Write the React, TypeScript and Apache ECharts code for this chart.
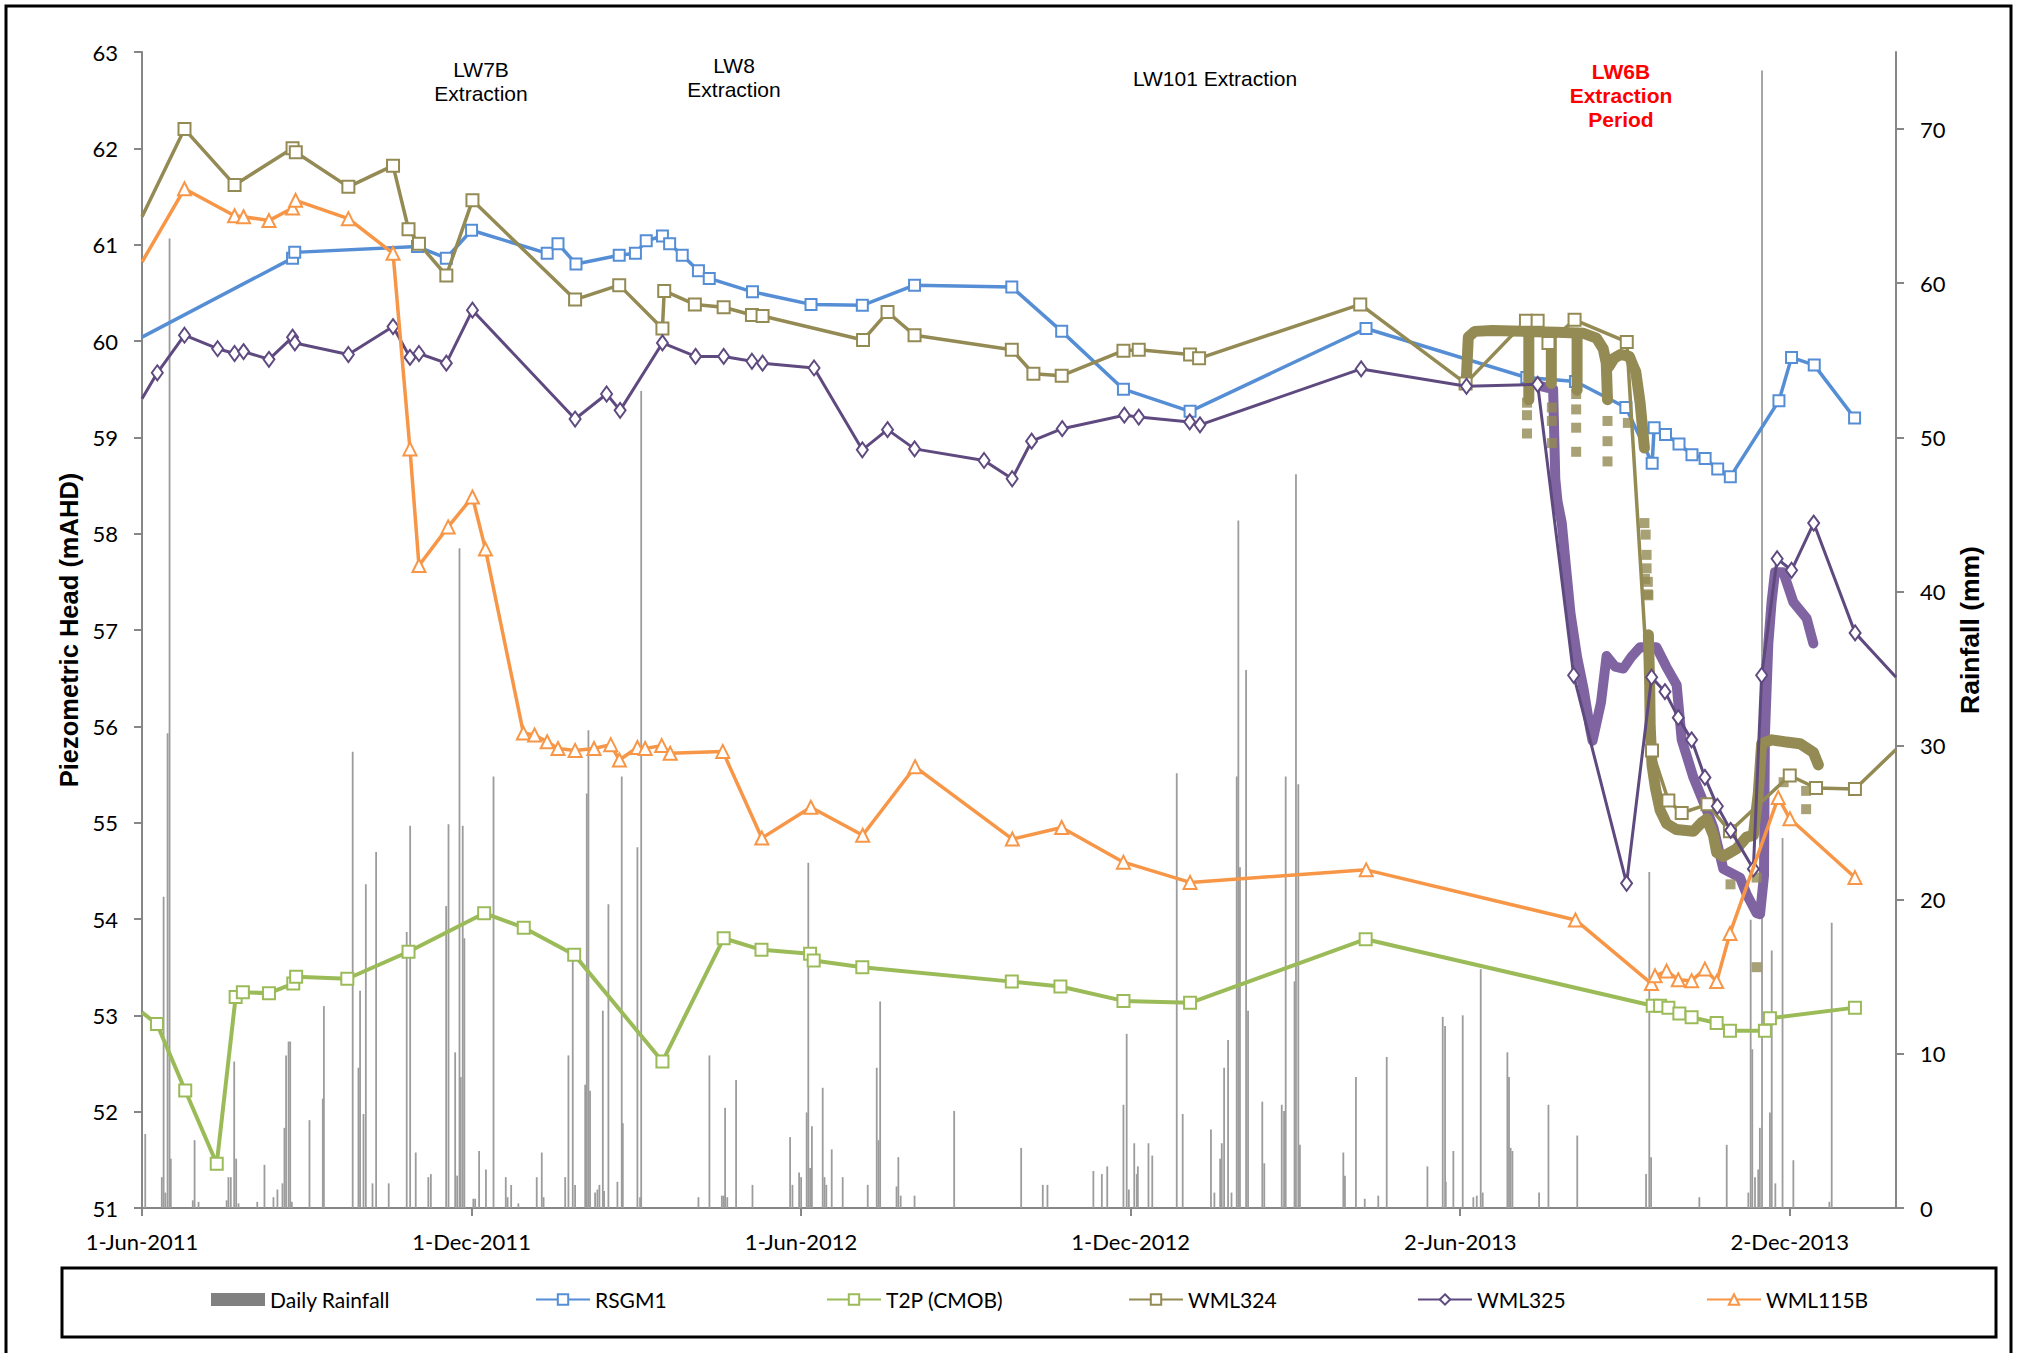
import React, { useEffect, useRef } from 'react';
import * as echarts from 'echarts';

// x values are days counted from 1-Jun-2011
const START_UTC = Date.UTC(2011, 5, 1);
const X_MAX_DAYS = 974;
const X_TICKS = [0, 183, 366, 549, 732, 915];
const RAIN_TICKS = [0, 10, 20, 30, 40, 50, 60, 70];
const MONTHS = ['Jan', 'Feb', 'Mar', 'Apr', 'May', 'Jun', 'Jul', 'Aug', 'Sep', 'Oct', 'Nov', 'Dec'];

const legendNames = ['Daily Rainfall', 'RSGM1', 'T2P (CMOB)', 'WML324', 'WML325', 'WML115B'];

// [day, mm]
const dailyRainfall: [number, number][] = [
  [1.8, 4.8], [11, 2.0], [12, 20.2], [13, 1.0], [14.2, 30.8], [15.3, 62.9], [16, 3.2], [28.2, 0.5], [29.2, 4.4], [31.4, 0.4],
  [47, 0.5], [48, 2.0], [49.3, 2.0], [51.2, 9.5], [52.3, 3.2], [53.6, 0.3], [64, 0.4], [68, 2.8], [73, 0.7], [75.2, 1.2],
  [78, 1.6], [79.1, 5.2], [80, 9.9], [81.4, 10.8], [82.3, 10.8], [83.2, 0.4], [93, 5.7], [100.4, 7.1], [101, 13.1], [117, 29.6],
  [120.2, 9.1], [121.1, 14.1], [123, 6.1], [124.3, 21.0], [128, 1.6], [130, 23.1], [137, 1.6], [147, 17.9], [148.9, 24.8], [152, 3.6],
  [159, 2.0], [160.4, 2.2], [168.9, 19.6], [170.2, 24.9], [173.9, 10.1], [175, 2.1], [176.3, 42.8], [177, 8.5], [178.1, 24.8], [179, 17.5],
  [184, 0.6], [185, 0.6], [187.2, 3.7], [191, 2.5], [195.2, 28.0], [202, 2.0], [203, 0.7], [205, 1.5], [209, 0.3], [219.2, 2.0],
  [222, 3.6], [223, 0.7], [235, 2.0], [236.8, 9.9], [239.2, 16.6], [240.5, 1.5],
  [246.1, 8.0], [247, 26.9], [247.9, 31.0], [248.8, 7.6], [251.6, 1.0], [252.9, 1.2], [254, 1.5], [255.9, 12.8], [256.6, 1.1], [259, 19.7],
  [264, 1.7], [266.4, 28.0], [267, 5.5], [275.1, 23.4], [276.6, 0.7], [277.2, 53.0], [309, 0.7], [315.1, 9.9], [322, 0.8], [323, 0.8],
  [323.8, 6.5], [325, 0.7], [329.9, 8.3], [339, 1.5], [359.9, 4.6], [361.2, 1.5], [364.9, 2.3], [366, 2.0], [369.1, 6.2], [370, 22.4],
  [371, 2.6], [372, 5.3], [378, 7.8], [379, 2.0], [380, 1.5], [383, 3.8], [389.1, 2.0], [403, 1.5], [408, 9.1], [409, 4.4],
  [409.9, 13.4], [419, 1.4], [420, 3.3], [421.3, 0.8], [429, 0.8], [451, 6.3],
  [488.2, 3.9], [500.2, 1.5], [502.8, 1.5], [528.3, 2.4], [533, 2.2], [536, 2.7], [545, 6.7], [546.8, 11.3], [548, 1.2], [551, 4.2],
  [552.4, 2.2], [553, 2.7], [558.9, 4.2], [561, 3.4], [574.6, 28.2], [577.9, 6.1], [593.6, 5.1], [595.5, 1.0], [598.7, 3.2], [599.6, 4.2],
  [600.9, 9.1], [603.1, 10.9], [605, 1.0], [607.9, 28.0], [608.8, 44.6], [609.7, 22.1], [613.1, 34.9], [614.2, 12.8], [622.1, 6.9], [623.2, 2.9],
  [632.9, 6.7], [634.2, 6.3], [635.1, 28.0], [640, 14.7], [640.8, 47.6], [642.1, 27.5], [643, 4.1], [667.1, 3.6], [668, 2.1], [674.1, 8.5],
  [679, 0.6], [686.5, 0.8], [691.2, 9.8], [713.8, 2.7], [722.3, 12.4], [723.6, 11.8], [724, 1.7], [728.2, 3.7],
  [733.4, 12.5], [739.3, 0.7], [741.2, 0.8], [743.4, 15.5], [744.5, 1.0], [758.2, 10.1], [759.1, 8.5], [760, 3.9], [761, 3.7], [775.8, 1.0],
  [781, 6.7], [797, 4.7], [835.2, 2.2], [837, 21.8], [838, 3.3], [864.8, 0.7], [880, 4.1], [892, 1.0], [893.3, 18.7], [894.2, 10.3],
  [895.7, 2.0], [897.5, 2.5], [898.4, 5.2], [899.6, 73.8], [904, 6.2], [905, 16.7], [907, 1.6], [911, 24.0], [917, 3.1], [937, 0.4], [938.3, 18.5],
];

// [day, mAHD]
const rsgm1: [number, number][] = [
  [0, 60.04], [83.6, 60.86], [84.8, 60.92], [153, 60.98], [169, 60.86], [183, 61.15], [225, 60.91], [231, 61.01], [241, 60.8],
  [265, 60.89], [274, 60.91], [280, 61.04], [289, 61.09], [293, 61.01], [300, 60.89], [309, 60.73], [315, 60.65], [339, 60.51],
  [371.5, 60.38], [400, 60.37], [429, 60.58], [483, 60.56], [510.7, 60.1], [545, 59.5], [582, 59.27], [679.7, 60.13], [769, 59.62],
  [796, 59.58], [824, 59.31], [838.6, 58.73], [839.7, 59.1], [846, 59.03], [853.5, 58.93], [860.7, 58.82], [868, 58.78],
  [875, 58.67], [882, 58.59], [909, 59.38], [916, 59.83], [928.6, 59.75], [951, 59.2],
];

const t2p: [number, number][] = [
  [0, 53.03], [8.3, 52.91], [24, 52.22], [41.5, 51.46], [52, 53.19], [56, 53.24], [70.5, 53.23], [84, 53.33], [85.6, 53.4],
  [114, 53.38], [148, 53.66], [190, 54.06], [212, 53.91], [240, 53.63], [289, 52.52], [323, 53.8], [344, 53.68], [371, 53.64],
  [373, 53.57], [400, 53.5], [483, 53.35], [510, 53.3], [545, 53.15], [582, 53.13], [679.5, 53.79], [838.9, 53.1], [843, 53.1],
  [847.6, 53.08], [853.7, 53.02], [860.5, 52.98], [874.4, 52.92], [881.8, 52.84], [901.2, 52.84], [904, 52.97], [951.2, 53.08],
];

const wml324: [number, number][] = [
  [0, 61.29], [23.6, 62.2], [51.4, 61.62], [83.6, 62.0], [85.4, 61.96], [114.6, 61.6], [139.4, 61.82], [148, 61.16],
  [153.8, 61.01], [169, 60.68], [183.5, 61.46], [240.5, 60.43], [265, 60.58], [289, 60.13], [290, 60.52], [307, 60.38],
  [323, 60.35], [338.7, 60.27], [344.6, 60.26], [400.4, 60.01], [414, 60.3], [429, 60.06], [483, 59.91], [495, 59.66],
  [510.7, 59.64], [545, 59.9], [553.5, 59.91], [582, 59.86], [587, 59.82], [676.5, 60.38], [735, 59.56], [768.5, 60.21],
  [775, 60.21], [781, 59.98], [795.5, 60.22], [824.5, 59.99], [838.5, 55.75], [847.6, 55.23], [855, 55.1], [869.3, 55.19],
  [881.8, 54.91], [915, 55.49], [929.6, 55.36], [951.2, 55.35], [974, 55.76],
];

const wml325: [number, number][] = [
  [0, 59.4], [8.5, 59.67], [23.6, 60.06], [42, 59.92], [51.4, 59.87], [56.4, 59.89], [70.5, 59.81], [83.6, 60.04], [84.9, 59.98],
  [114.6, 59.86], [139.4, 60.15], [148.8, 59.83], [153.8, 59.87], [169, 59.77], [183.5, 60.32], [240.5, 59.19], [258, 59.45],
  [265.5, 59.28], [289, 59.98], [307.4, 59.84], [323, 59.84], [338.7, 59.79], [344.6, 59.77], [373.2, 59.72], [400, 58.87],
  [414, 59.08], [429, 58.88], [467.6, 58.76], [483.2, 58.57], [494, 58.96], [511, 59.09], [545.5, 59.23], [553.5, 59.21],
  [581.8, 59.16], [587.5, 59.13], [677, 59.71], [735.5, 59.53], [775, 59.55], [795, 56.53], [824.4, 54.37], [838.3, 56.51],
  [845.7, 56.36], [853.1, 56.09], [860.5, 55.86], [867.9, 55.47], [874.8, 55.17], [882.2, 54.92], [894.8, 54.52],
  [899.4, 56.53], [908, 57.74], [916, 57.62], [928.3, 58.11], [951.3, 56.97], [974, 56.51],
];

const wml115b: [number, number][] = [
  [0, 60.82], [23.6, 61.58], [51.4, 61.3], [56.4, 61.29], [70.5, 61.25], [83.6, 61.38], [85.3, 61.46], [114.6, 61.27],
  [139.4, 60.91], [148.8, 58.88], [153.8, 57.67], [170, 58.07], [183.5, 58.38], [190.7, 57.84], [211.8, 55.93], [218, 55.91],
  [225, 55.84], [231, 55.77], [240.5, 55.75], [251, 55.77], [260.3, 55.81], [265.1, 55.65], [275.1, 55.78], [279.4, 55.77],
  [288.6, 55.8], [293.3, 55.72], [322.5, 55.74], [344.2, 54.84], [371.4, 55.16], [400.2, 54.87], [429.3, 55.58],
  [483.3, 54.83], [510.7, 54.95], [545, 54.59], [582, 54.38], [679.8, 54.51], [796, 53.99], [838.2, 53.33], [840.2, 53.41],
  [846.6, 53.46], [853.1, 53.37], [860.5, 53.36], [867.9, 53.48], [874.4, 53.35], [881.8, 53.85], [908.6, 55.26],
  [915.1, 55.04], [951.2, 54.43],
];

// logger records (drawn as thick bands)
const wml324LoggerSegments: [number, number][][] = [
  [[735.3, 59.56], [736.5, 60.04], [740.1, 60.1], [749.8, 60.11], [766.7, 60.1], [786.0, 60.09], [800.5, 60.08], [807.7, 60.03],
    [811.4, 59.92], [813.1, 59.77], [813.8, 59.39]],
  [[770.1, 60.08], [770.1, 59.39]],
  [[782.6, 60.08], [782.6, 59.56]],
  [[796.9, 60.08], [796.9, 59.49]],
  [[814.5, 59.73], [817.4, 59.82], [821.0, 59.86], [825.9, 59.84], [828.3, 59.73], [829.5, 59.68], [831.9, 59.36], [834.3, 58.89]],
  [[836.5, 56.95], [837.2, 56.45], [837.5, 56.0], [838.5, 55.6], [840.5, 55.35], [843, 55.13], [846.6, 54.99], [852, 54.93],
    [861.5, 54.91], [866, 55.0], [868.9, 55.04], [872.6, 54.87], [874.4, 54.69], [878.1, 54.65], [885.5, 54.73], [891, 54.85],
    [894.8, 54.87], [897.5, 55.3], [899.4, 55.82], [905, 55.86], [912, 55.84], [920.7, 55.82], [928.1, 55.73], [930.9, 55.6]],
];
const wml324LoggerPoints: [number, number][] = [
  [769.1, 59.36], [769.1, 59.23], [769.1, 59.04], [782.9, 59.31], [782.9, 59.17], [782.9, 58.94],
  [796.4, 59.45], [796.4, 59.29], [796.4, 59.1], [796.4, 58.85], [813.8, 59.17], [813.8, 58.96], [813.8, 58.75],
  [825.1, 59.15], [834.3, 58.11], [835.0, 57.99], [835.5, 57.78], [835.5, 57.64], [836.2, 57.5], [836.2, 57.37],
  [834.6, 57.53], [836.5, 57.36], [882.1, 54.36], [896.6, 54.43], [896.6, 53.5], [911.6, 55.42], [924.1, 55.33], [924.1, 55.14],
];
const wml325Logger: [number, number][] = [
  [775.1, 59.54], [783.6, 59.5], [784.8, 58.57], [786.0, 58.34], [788.4, 58.11], [790.8, 57.64], [793.2, 57.18], [796.9, 56.72],
  [800.5, 56.39], [804.1, 55.98], [805.5, 55.85], [810.2, 56.25], [813.3, 56.73], [818, 56.62], [822.6, 56.6], [827, 56.72],
  [831.8, 56.82], [841, 56.82], [846.4, 56.62], [852.2, 56.43], [855, 55.86], [861.5, 55.47], [868.9, 55.13], [872.6, 54.95],
  [878.1, 54.52], [887.4, 54.43], [891, 54.26], [896.6, 54.06], [898.5, 54.05], [900.7, 54.45], [901.2, 55.91], [903.1, 56.86],
  [904.9, 57.29], [906.8, 57.6], [911.4, 57.6], [917, 57.29], [924.4, 57.12], [928.1, 56.86],
];

const annotations = [
  { text: 'LW7B', x: 481, y: 69, color: '#000', bold: false },
  { text: 'Extraction', x: 481, y: 93, color: '#000', bold: false },
  { text: 'LW8', x: 734, y: 65, color: '#000', bold: false },
  { text: 'Extraction', x: 734, y: 89, color: '#000', bold: false },
  { text: 'LW101 Extraction', x: 1215, y: 78, color: '#000', bold: false },
  { text: 'LW6B', x: 1621, y: 71, color: '#ff0000', bold: true },
  { text: 'Extraction', x: 1621, y: 95, color: '#ff0000', bold: true },
  { text: 'Period', x: 1621, y: 119, color: '#ff0000', bold: true },
];

const legendLeft = [206, 530, 821, 1123, 1412, 1701];

const COLORS = {
  rain: '#9c9c9c',
  rainLegend: '#808080',
  rsgm1: '#558ED5',
  t2p: '#9BBB59',
  wml324: '#948A54',
  wml325: '#5F4A80',
  wml325Logger: '#8064A2',
  wml115b: '#F79646',
  axis: '#868686',
};

function fmtDay(v: number): string {
  const d = new Date(START_UTC + Math.round(v) * 86400000);
  return `${d.getUTCDate()}-${MONTHS[d.getUTCMonth()]}-${d.getUTCFullYear()}`;
}

function toLine(arr: [number, number][]) {
  return arr.map(([x, y]) =>
    x <= 0 || x >= X_MAX_DAYS ? { value: [x, y], symbol: 'none' } : { value: [x, y] }
  );
}

function manualSeries(name: string, data: [number, number][], color: string, symbol: string, symbolSize: any, width: number, z: number) {
  return {
    name,
    type: 'line',
    data: toLine(data),
    xAxisIndex: 0,
    yAxisIndex: 0,
    symbol,
    symbolSize,
    showAllSymbol: true,
    lineStyle: { color, width },
    itemStyle: { color, borderColor: color, borderWidth: 1.8 },
    z,
    clip: true,
  };
}

export default function App() {
  const ref = useRef<HTMLDivElement>(null);
  useEffect(() => {
    if (!ref.current) return;
    const chart = echarts.init(ref.current, undefined, { renderer: 'svg' });
    const tickFont = { fontFamily: 'Lato', fontSize: 22, color: '#000' };
    const axisLine = { show: true, lineStyle: { color: COLORS.axis, width: 2 } };
    const axisTick = { show: true, length: 8, lineStyle: { color: COLORS.axis, width: 2 } };
    const titleFont = { fontFamily: 'Liberation Sans, Arial, sans-serif', fontWeight: 'bold', color: '#000' };

    const series: any[] = [
      {
        name: 'Daily Rainfall',
        type: 'bar',
        xAxisIndex: 0,
        yAxisIndex: 1,
        data: dailyRainfall,
        barWidth: 1.8,
        itemStyle: { color: COLORS.rain },
        z: 1,
      },
      manualSeries('RSGM1', rsgm1, COLORS.rsgm1, 'emptyRect', 11, 3.5, 3),
      manualSeries('T2P (CMOB)', t2p, COLORS.t2p, 'emptyRect', 12, 4, 3),
      {
        name: 'WML325 logger',
        type: 'line',
        data: wml325Logger,
        symbol: 'none',
        lineStyle: { color: COLORS.wml325Logger, width: 10, join: 'round', cap: 'round' },
        z: 4,
      },
      ...wml324LoggerSegments.map((seg, i) => ({
        name: 'WML324 logger ' + i,
        type: 'line',
        data: seg,
        symbol: 'none',
        lineStyle: { color: COLORS.wml324, width: 11, join: 'round', cap: 'round' },
        z: 5,
      })),
      {
        name: 'WML324 logger points',
        type: 'scatter',
        data: wml324LoggerPoints,
        symbol: 'rect',
        symbolSize: 10,
        itemStyle: { color: COLORS.wml324 },
        z: 5,
      },
      manualSeries('WML324', wml324, COLORS.wml324, 'emptyRect', 12, 3.5, 6),
      manualSeries('WML325', wml325, COLORS.wml325, 'emptyDiamond', [11, 15], 3, 7),
      manualSeries('WML115B', wml115b, COLORS.wml115b, 'emptyTriangle', 13, 3.5, 8),
    ];

    const legends = legendNames.map((name, i) => ({
      data: [
        name === 'Daily Rainfall'
          ? { name, icon: 'rect', itemStyle: { color: COLORS.rainLegend } }
          : { name },
      ],
      left: legendLeft[i],
      top: 1284,
      itemWidth: 54,
      itemHeight: 13,
      itemGap: 0,
      selectedMode: false,
      textStyle: { fontFamily: 'Lato', fontSize: 21, color: '#000' },
    }));

    const graphic: any[] = [
      {
        type: 'rect',
        shape: { x: 6, y: 6, width: 2005, height: 1380 },
        style: { fill: 'none', stroke: '#000', lineWidth: 3 },
        silent: true,
        z: 100,
      },
      {
        type: 'rect',
        shape: { x: 62, y: 1268, width: 1934, height: 69 },
        style: { fill: 'none', stroke: '#000', lineWidth: 3 },
        silent: true,
        z: 100,
      },
      ...annotations.map((a) => ({
        type: 'text',
        x: a.x,
        y: a.y,
        style: {
          text: a.text,
          fill: a.color,
          fontFamily: 'Liberation Sans, Arial, sans-serif',
          fontSize: 21,
          fontWeight: a.bold ? 'bold' : 'normal',
          align: 'center',
          verticalAlign: 'middle',
          textAlign: 'center',
          textVerticalAlign: 'middle',
        },
        z: 100,
      })),
    ];

    chart.setOption({
      animation: false,
      backgroundColor: '#ffffff',
      grid: { left: 142, right: 126, top: 52, bottom: 145, containLabel: false },
      xAxis: {
        type: 'value',
        min: 0,
        max: X_MAX_DAYS,
        axisLine,
        axisTick: { ...axisTick, customValues: X_TICKS },
        axisLabel: { ...tickFont, margin: 22, customValues: X_TICKS, formatter: (v: number) => fmtDay(v) },
        splitLine: { show: false },
      },
      yAxis: [
        {
          type: 'value',
          position: 'left',
          min: 51,
          max: 63,
          interval: 1,
          name: 'Piezometric Head (mAHD)',
          nameLocation: 'middle',
          nameGap: 59,
          nameTextStyle: { ...titleFont, fontSize: 25.5 },
          axisLine,
          axisTick,
          axisLabel: { ...tickFont, margin: 24 },
          splitLine: { show: false },
        },
        {
          type: 'value',
          position: 'right',
          min: 0,
          max: 75,
          name: 'Rainfall (mm)',
          nameLocation: 'middle',
          nameGap: 60,
          nameTextStyle: { ...titleFont, fontSize: 26.5 },
          axisLine,
          axisTick: { ...axisTick, customValues: RAIN_TICKS },
          axisLabel: { ...tickFont, margin: 24, customValues: RAIN_TICKS },
          splitLine: { show: false },
        },
      ],
      legend: legends,
      series,
      graphic,
    });
    return () => chart.dispose();
  }, []);
  return (
    <div
      ref={ref}
      style={{ position: 'fixed', left: 0, top: 0, width: 2022, height: 1353, background: '#fff' }}
    />
  );
}
